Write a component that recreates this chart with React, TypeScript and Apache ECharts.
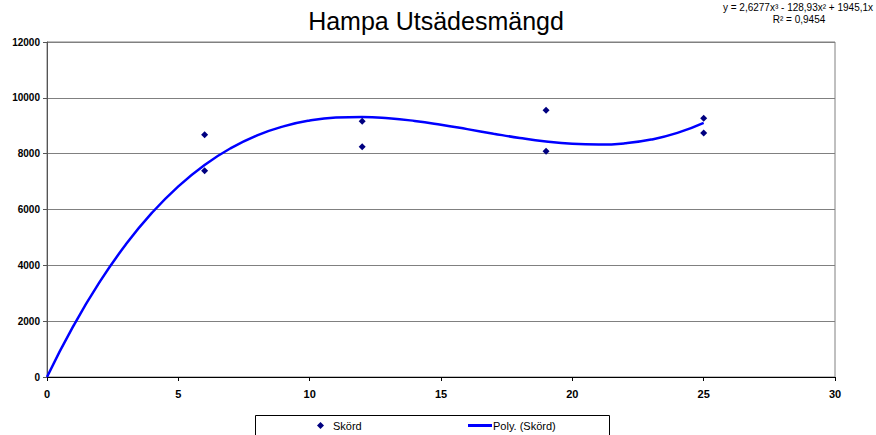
import React, { useEffect, useRef } from "react";
import * as echarts from "echarts";

const titleText = "Hampa Utsädesmängd";
const equationLine1 = "y = 2,6277x³ - 128,93x² + 1945,1x";
const equationLine2 = "R² = 0,9454";

const scatterX = [6, 6, 12, 12, 19, 19, 25, 25];
const scatterY = [8680, 7390, 9160, 8250, 9553, 8085, 9267, 8740];

const trendX = [0, 1, 2, 3, 4, 5, 6, 7, 8, 9, 10, 11, 12, 13, 14, 15, 16, 17, 18, 19, 20, 21, 22, 23, 24, 25];
const trendY = [0, 1819, 3396, 4746, 5886, 6831, 7597, 8199, 8655, 8978, 9186, 9293, 9316, 9270, 9172, 9036, 8879, 8716, 8563, 8437, 8352, 8324, 8370, 8505, 8744, 9104];

const seriesNames = ["Skörd", "Poly. (Skörd)"];

export default function App() {
  const ref = useRef<HTMLDivElement>(null);
  useEffect(() => {
    document.body.style.margin = "0";
    const chart = echarts.init(ref.current!, null, { renderer: "svg" });
    chart.setOption({
      animation: false,
      backgroundColor: "#ffffff",
      title: {
        text: titleText,
        left: 431,
        textAlign: "center",
        top: 3,
        textStyle: { fontFamily: "Arial, Liberation Sans", fontSize: 25, fontWeight: "normal", color: "#000" },
      },
      graphic: [
        {
          type: "text",
          x: 798,
          y: 2,
          style: { text: equationLine1, textAlign: "center", font: "10px Arial, Liberation Sans", fill: "#000" },
        },
        {
          type: "text",
          x: 799,
          y: 14,
          style: { text: equationLine2, textAlign: "center", font: "10px Arial, Liberation Sans", fill: "#000" },
        },
        {
          type: "rect",
          shape: { x: 255.5, y: 415.5, width: 354, height: 30 },
          style: { fill: "none", stroke: "#000", lineWidth: 1 },
        },
      ],
      grid: {
        left: 47,
        right: 41,
        top: 42,
        bottom: 58,
        show: true,
        borderColor: "#808080",
        borderWidth: 1,
        backgroundColor: "transparent",
      },
      legend: [
        {
          data: [{ name: seriesNames[0], icon: "diamond" }],
          left: 317,
          top: 419,
          padding: 0,
          itemWidth: 7,
          itemHeight: 7,
          itemGap: 6,
          textStyle: { fontFamily: "Arial, Liberation Sans", fontSize: 11, lineHeight: 13, color: "#000", padding: [0, 0, 0, 4] },
        },
        {
          data: [{ name: seriesNames[1], icon: "rect" }],
          left: 468,
          top: 419,
          padding: 0,
          itemWidth: 24,
          itemHeight: 3,
          textStyle: { fontFamily: "Arial, Liberation Sans", fontSize: 11, lineHeight: 13, color: "#000", padding: [0, 0, 0, -4] },
        },
      ],
      xAxis: {
        type: "value",
        min: 0,
        max: 30,
        interval: 5,
        axisLine: { show: true, onZero: false, lineStyle: { color: "#000", width: 1 } },
        axisTick: { show: true, length: 4, lineStyle: { color: "#000" } },
        splitLine: { show: false },
        axisLabel: {
          margin: 11,
          fontFamily: "Liberation Sans Narrow, Arial Narrow, Arial",
          fontWeight: "bold",
          fontSize: 11,
          color: "#000",
        },
      },
      yAxis: {
        type: "value",
        min: 0,
        max: 12000,
        interval: 2000,
        axisLine: { show: true, onZero: false, lineStyle: { color: "#555", width: 1 } },
        axisTick: { show: true, length: 4, lineStyle: { color: "#555" } },
        splitLine: { show: true, lineStyle: { color: "#808080", width: 1 } },
        axisLabel: {
          margin: 7,
          fontFamily: "Arial, Liberation Sans",
          fontWeight: "bold",
          fontSize: 10,
          color: "#000",
          formatter: (v: number) => String(v),
        },
      },
      series: [
        {
          name: seriesNames[0],
          type: "scatter",
          symbol: "diamond",
          symbolSize: 7,
          itemStyle: { color: "#000080", opacity: 1 },
          data: scatterX.map((x, i) => [x, scatterY[i]]),
          z: 3,
        },
        {
          name: seriesNames[1],
          type: "line",
          smooth: true,
          showSymbol: false,
          symbol: "none",
          lineStyle: { color: "#0000ff", width: 2.5 },
          itemStyle: { color: "#0000ff" },
          data: trendX.map((x, i) => [x, trendY[i]]),
          z: 2,
        },
      ],
    });
    return () => chart.dispose();
  }, []);
  return <div ref={ref} style={{ width: 876, height: 435 }} />;
}
